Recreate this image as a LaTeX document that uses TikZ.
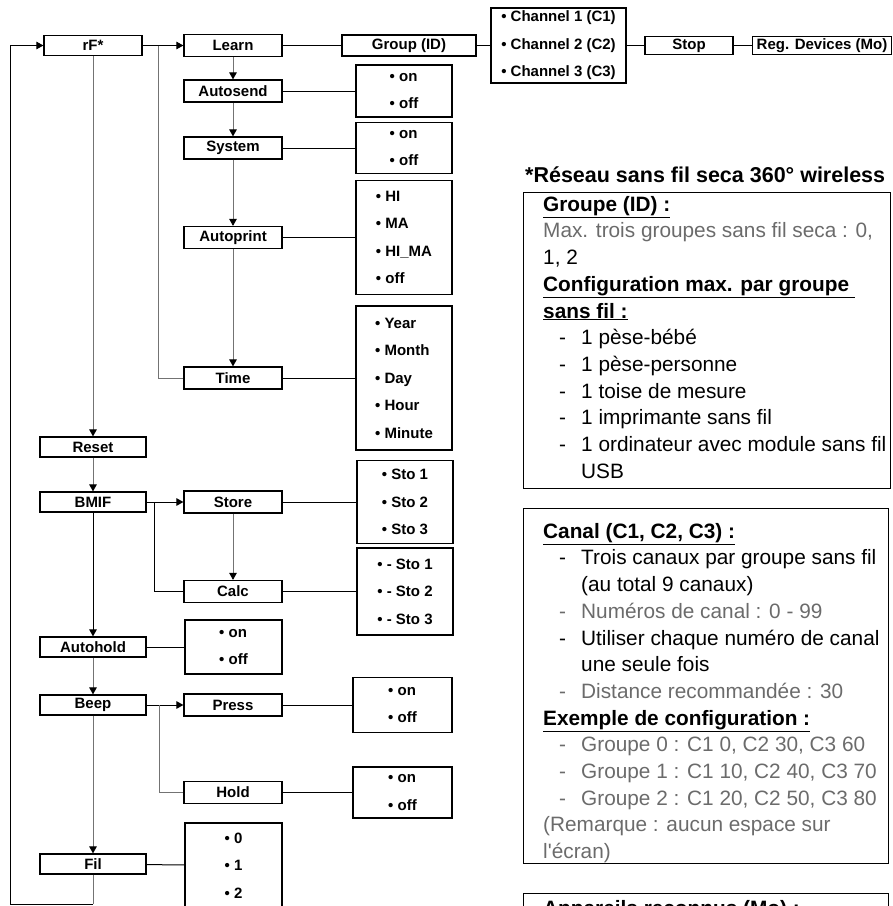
\documentclass[tikz,border=0pt]{standalone}
\usepackage{fontspec}
\setmainfont{Liberation Sans}
\usetikzlibrary{arrows.meta}
\definecolor{noteGray}{gray}{0.42}
\newcommand{\noteItem}[1]{\hspace*{16pt}\makebox[22pt][l]{-}#1}
\newcommand{\noteCont}[1]{\hspace*{38pt}#1}
\newcommand{\noteHead}[1]{\underline{\textbf{#1}}}

\begin{document}
\begin{tikzpicture}
[x=1pt,y=-1pt,
  boxDecorate/.style={draw,line width=1.2pt,inner sep=0pt,font=\fontsize{15}{17}\selectfont\bfseries},%
  valueDecorate/.style={boxDecorate,align=left,line width=1.4pt,font=\fontsize{15}{27.5}\selectfont\bfseries},%
  lineDecorate/.style={-,line width=1pt},%
  thinDecorate/.style={-,line width=0.9pt,draw=black!55},%
  arrowDecorate/.style={-{Triangle[length=7pt,width=7.5pt,black]},line width=1pt},%
  thinArrowDecorate/.style={thinDecorate,-{Triangle[length=7pt,width=7.5pt,black]}},%
  noteBox/.style={draw,line width=1.2pt,anchor=north west,inner sep=0pt},%
  noteText/.style={anchor=north west,align=left,inner sep=0pt,font=\fontsize{20.8}{26.7}\selectfont}]
\useasboundingbox (0,0) rectangle (893,906);
\clip (0,0) rectangle (893,906);
%% menu entries
\foreach \nodename/\x/\y/\w/\h/\lbl in {
  rf/93/45.5/98/20/rF*,
  learn/233/45.5/98/22/Learn,
  group/409/45.5/134/21/Group (ID),
  stop/689/45.5/88/18/Stop,
  reg/822/45.5/139/18/Reg. Devices (Mo),
  autosend/233/91/98/22/Autosend,
  system/233/148/98/22/System,
  autoprint/233/237.5/98/22/Autoprint,
  time/233/378/98/22/Time,
  reset/93/447/106/20/Reset,
  bmif/93/502/106/20/BMIF,
  store/233/502/98/22/Store,
  calc/233/591.5/98/22/Calc,
  autohold/93/647/106/20/Autohold,
  beep/93/705/106/20/Beep,
  press/233/705/98/22/Press,
  hold/233/792.5/98/22/Hold,
  fil/93/864/106/20/Fil}
{
  \node (\nodename) at (\x,\y) [boxDecorate,minimum width=\w,minimum height=\h] {\lbl};
}
%% settings lists
\foreach \nodename/\x/\y/\w/\h/\items in {
  channels/558.5/45.5/135/75/{• Channel 1 (C1)\\• Channel 2 (C2)\\• Channel 3 (C3)},
  autosendVal/404/91/96/52/{• on\\• off},
  systemVal/404/148/96/51/{• on\\• off},
  autoprintVal/404/237.5/96/114/{• HI\\• MA\\• HI\_MA\\• off},
  timeVal/404/378/96/144/{• Year\\• Month\\• Day\\• Hour\\• Minute},
  storeVal/405/502/96/83/{• Sto 1\\• Sto 2\\• Sto 3},
  calcVal/405/591.5/96/87/{• - Sto 1\\• - Sto 2\\• - Sto 3},
  autoholdVal/233.5/647/97/54/{• on\\• off},
  pressVal/402.5/705/99/55/{• on\\• off},
  holdVal/402.5/792.5/99/51/{• on\\• off},
  filVal/233.5/865.5/97/85/{• 0\\• 1\\• 2}}
{
  \node (\nodename) at (\x,\y) [valueDecorate,minimum width=\w,minimum height=\h] {\items};
}
%% edges
\path
\foreach \startnode/\endnode in {rf/learn, bmif/store, beep/press, bmif/autohold}
{
  (\startnode) edge[arrowDecorate] (\endnode)
};
\path
\foreach \startnode/\endnode in {
  learn/autosend, autosend/system, system/autoprint, autoprint/time,
  rf/reset, reset/bmif, store/calc, autohold/beep, beep/fil}
{
  (\startnode) edge[thinArrowDecorate] (\endnode)
};
\path
\foreach \startnode/\endnode in {
  learn/group, group/channels, channels/stop, stop/reg,
  autosend/autosendVal, system/systemVal, autoprint/autoprintVal, time/timeVal,
  store/storeVal, calc/calcVal, autohold/autoholdVal,
  press/pressVal, hold/holdVal, fil/filVal}
{
  (\startnode) edge[lineDecorate] (\endnode)
};
%% forks and loop back
\coordinate (rfFork) at (158,45.5);
\coordinate (bmifFork) at (154,502);
\coordinate (beepFork) at (159,705);
\coordinate (filDrop) at (93,904);
\coordinate (loopCorner) at (10,904);
\draw[thinDecorate] (rfFork) |- (time.west);
\draw[lineDecorate] (bmifFork) |- (calc.west);
\draw[thinDecorate] (beepFork) |- (hold.west);
\draw[thinDecorate] (fil.south) -- (filDrop);
\draw[lineDecorate] (filDrop) -- (loopCorner);
\draw[arrowDecorate] (loopCorner) |- (rf.west);
%% notes
\node[anchor=base west,inner sep=0pt,font=\fontsize{21.5}{25}\selectfont\bfseries] (wirelessTitle) at (525,182) {*Réseau sans fil seca 360° wireless};
\node[noteBox,minimum width=367,minimum height=296] (groupBox) at (523,192) {};
\node[noteText] (groupText) at (543,196) {%
  \noteHead{Groupe (ID) :}\\
  {\color{noteGray}Max. trois groupes sans fil seca : 0,}\\
  1, 2\\
  \noteHead{Configuration max. par groupe\ }\\
  \noteHead{sans fil :}\\
  \noteItem{1 pèse-bébé}\\
  \noteItem{1 pèse-personne}\\
  \noteItem{1 toise de mesure}\\
  \noteItem{1 imprimante sans fil}\\
  \noteItem{1 ordinateur avec module sans fil}\\
  \noteCont{USB}};
\node[noteBox,minimum width=365,minimum height=355] (canalBox) at (523,508) {};
\node[noteText] (canalText) at (543,523) {%
  \noteHead{Canal (C1, C2, C3) :}\\
  \noteItem{Trois canaux par groupe sans fil}\\
  \noteCont{(au total 9 canaux)}\\
  {\color{noteGray}\noteItem{Numéros de canal : 0 - 99}}\\
  \noteItem{Utiliser chaque numéro de canal}\\
  \noteCont{une seule fois}\\
  {\color{noteGray}\noteItem{Distance recommandée : 30}}\\
  \noteHead{Exemple de configuration :}\\
  {\color{noteGray}\noteItem{Groupe 0 : C1 0, C2 30, C3 60}}\\
  {\color{noteGray}\noteItem{Groupe 1 : C1 10, C2 40, C3 70}}\\
  {\color{noteGray}\noteItem{Groupe 2 : C1 20, C2 50, C3 80}}\\
  {\color{noteGray}(Remarque : aucun espace sur}\\
  {\color{noteGray}l\textquotesingle écran)}};
\node[noteBox,minimum width=365,minimum height=60] (deviceBox) at (523,893) {};
\node[noteText] (deviceText) at (543,900) {\noteHead{Appareils reconnus (Mo) :}};
\end{tikzpicture}
\end{document}
